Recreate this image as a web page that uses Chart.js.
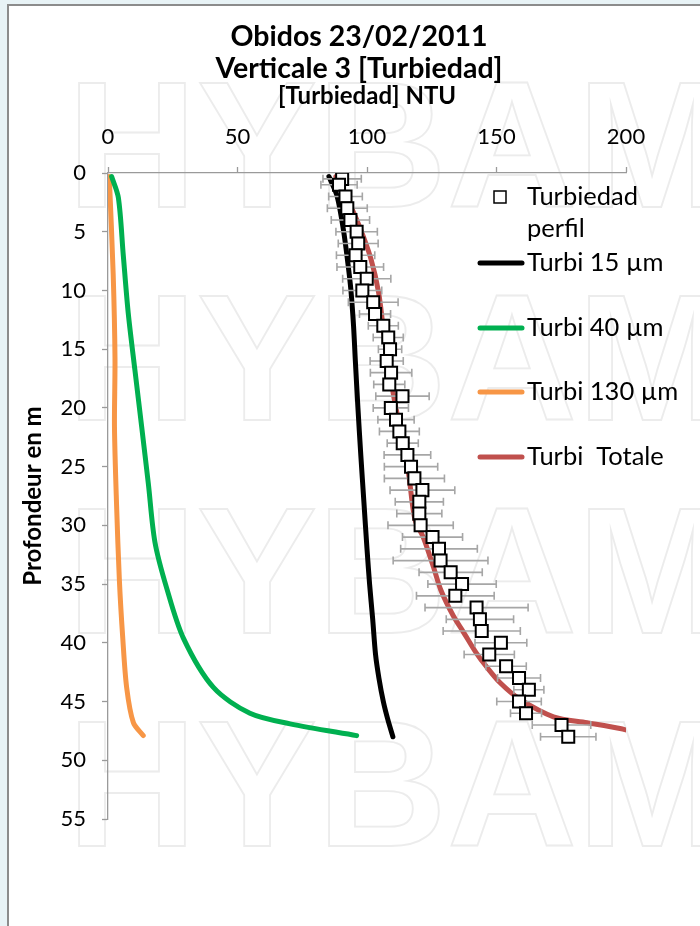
<!DOCTYPE html>
<html>
<head>
<meta charset="utf-8">
<script src="https://cdn.jsdelivr.net/npm/chart.js@4.4.1/dist/chart.umd.min.js"></script>
<style>
    html, body { margin: 0; padding: 0; width: 700px; height: 926px; overflow: hidden; background: #e8f3f6; }
    #frame { position: absolute; left: 7px; top: 4px; width: 720px; height: 940px; background: #fff;
             border-top: 2px solid #8c8c8c; border-left: 2px solid #8c8c8c; }
    #wrap { position: absolute; left: 9px; top: 6px; width: 700px; height: 920px; }
</style>
</head>
<body>
<div id="frame"></div>
<div id="wrap"><canvas id="chart"></canvas></div>
<script>
// Measured profile (turbidity NTU vs depth m) with error bars
const profDepth = [0.5, 1, 2, 3, 4, 5, 6, 7, 8, 9, 10, 11, 12, 13, 14, 15, 16, 17, 18, 19, 20, 21, 22, 23, 24,
                   25, 26, 27, 28, 29, 30, 31, 32, 33, 34, 35, 36, 37, 38, 39, 40, 41, 42, 43, 44, 45, 46, 47, 48];
const profTurb = [90.4, 89.2, 91.7, 92.4, 93.6, 96, 96.6, 95.6, 97.4, 99.9, 98.2, 102.4, 103.1, 106.3, 108.2, 108.9,
                  107.6, 109.3, 108.6, 113.7, 109.2, 111.2, 112.5, 113.8, 115.6, 117, 118.3, 121.4, 120.2, 120.2,
                  120.7, 125.3, 127.8, 128.4, 132.3, 136.7, 134.1, 142.3, 143.6, 144.3, 151.7, 147.2, 153.7, 158.7,
                  162.5, 158.7, 161.4, 175.1, 177.7];
const profErr = [7.4, 7, 6.5, 7.7, 7.4, 8, 7.7, 7.4, 9, 9.3, 7.5, 9.6, 6, 5.8, 5.8, 4.5, 6.4, 8, 6, 10.3, 6.8, 7,
                 7.7, 6, 9, 10.3, 11.6, 12.5, 9.3, 8.7, 12.6, 11.6, 14.8, 18.3, 12.2, 13.2, 15, 19.9, 13, 14.9,
                 10, 9.7, 7.8, 8.3, 5.8, 8.6, 6, 11.3, 10.7];

// Modelled curves per grain size
const depth15 = [0.3, 2, 5, 8, 10, 13, 16, 20, 24, 28, 32, 35, 38, 41, 43, 45, 46.5, 48];
const turb15 = [85.3, 88.5, 91, 92.8, 93.8, 94.8, 95.5, 96.5, 97.6, 98.8, 100, 101, 102.2, 103.3, 104.6, 106.3, 108, 110];

const depth40 = [0.3, 2.1, 7, 11.9, 16.8, 21.6, 26.5, 31.4, 35.3, 39.6, 43.8, 46, 46.9, 47.9];
const turb40 = [1.4, 4, 5.9, 7.8, 10.4, 13, 15.6, 18.1, 22.6, 29.1, 40.7, 54.8, 70.3, 96];

const depth130 = [0.3, 8.6, 15.8, 21.6, 28.2, 34.7, 39.6, 43.8, 46.8, 47.9];
const turb130 = [0.5, 2, 2.7, 2.5, 3.3, 4.4, 5.7, 7.2, 9.8, 13.6];

const depthTot = [0.3, 2, 4.5, 7.3, 10.2, 13.6, 16, 19, 22, 25.5, 29.5, 31, 33.5, 35.5, 37.7, 39, 40.9, 42, 43.4,
                  44.8, 46.3, 46.8, 47.3, 47.6];
const turbTot = [88, 92, 97, 101.5, 104.5, 106.5, 108.2, 110.3, 113, 116, 118.5, 121.7, 125.6, 128.5, 133.3,
                 137, 142.3, 146, 151.4, 159, 172, 185, 197.7, 203];

const titleLines = ['Obidos 23/02/2011', 'Verticale 3 [Turbiedad]'];
const seriesLabels = ['Turbiedad perfil', 'Turbi 15 µm', 'Turbi 40 µm', 'Turbi 130 µm', 'Turbi  Totale'];
const seriesColors = ['#000000', '#000000', '#00b050', '#f79646', '#c0504d'];
const xTicks = [0, 50, 100, 150, 200];
const yTicks = [0, 5, 10, 15, 20, 25, 30, 35, 40, 45, 50, 55];

const toPoints = (xs, ys) => xs.map((v, i) => ({ x: v, y: ys[i] }));

function lineSet(i, xs, ys) {
    return {
        label: seriesLabels[i],
        data: toPoints(xs, ys),
        showLine: true,
        borderColor: seriesColors[i],
        borderWidth: 5,
        borderCapStyle: 'round',
        pointRadius: 0,
        tension: 0.3,
        fill: false
    };
}

// background watermark
const watermark = {
    id: 'watermark',
    beforeDraw(chart) {
        const ctx = chart.ctx;
        ctx.save();
        ctx.font = 'bold 180px "Liberation Sans"';
        ctx.strokeStyle = '#ececec';
        ctx.lineWidth = 1.8;
        [201, 414, 627, 840].forEach(b => ctx.strokeText('HYBAM', 58, b));
        ctx.restore();
    }
};

// chart title, centred on the whole canvas
const topTitle = {
    id: 'topTitle',
    afterDraw(chart) {
        const ctx = chart.ctx;
        ctx.save();
        ctx.font = 'bold 28.5px Lato';
        ctx.fillStyle = '#000';
        ctx.textAlign = 'center';
        ctx.textBaseline = 'middle';
        titleLines.forEach((t, k) => ctx.fillText(t, chart.width / 2, 31 + k * 32));
        ctx.restore();
    }
};

// horizontal error bars under the squares
const errorBars = {
    id: 'errorBars',
    beforeDatasetDraw(chart, args) {
        if (args.index !== 0) return;
        const { ctx, scales: { x, y } } = chart;
        ctx.save();
        ctx.strokeStyle = '#a6a6a6';
        ctx.lineWidth = 1.6;
        profDepth.forEach((d, i) => {
            const py = y.getPixelForValue(d);
            const x0 = x.getPixelForValue(profTurb[i] - profErr[i]);
            const x1 = x.getPixelForValue(profTurb[i] + profErr[i]);
            ctx.beginPath();
            ctx.moveTo(x0, py); ctx.lineTo(x1, py);
            ctx.moveTo(x0, py - 4); ctx.lineTo(x0, py + 4);
            ctx.moveTo(x1, py - 4); ctx.lineTo(x1, py + 4);
            ctx.stroke();
        });
        ctx.restore();
    }
};

// legend drawn inside the plot, at the right
const sideLegend = {
    id: 'sideLegend',
    afterDraw(chart, args, opts) {
        const ctx = chart.ctx;
        ctx.save();
        ctx.font = '25.5px Lato';
        ctx.textBaseline = 'middle';
        chart.data.datasets.forEach((ds, i) => {
            const y = opts.rows[i];
            if (i === 0) {
                ctx.fillStyle = '#fff';
                ctx.strokeStyle = '#000';
                ctx.lineWidth = 1.5;
                ctx.fillRect(485, y - 6, 12, 12);
                ctx.strokeRect(485, y - 6, 12, 12);
            } else {
                ctx.strokeStyle = ds.borderColor;
                ctx.lineWidth = 5;
                ctx.lineCap = 'round';
                ctx.beginPath();
                ctx.moveTo(471, y);
                ctx.lineTo(513, y);
                ctx.stroke();
            }
            ctx.fillStyle = '#000';
            const lines = ctx.measureText(ds.label).width > 165 ? ds.label.split(' ') : [ds.label];
            lines.forEach((t, k) => ctx.fillText(t, 518, y + k * 32));
        });
        ctx.restore();
    }
};

const axisGrid = { drawOnChartArea: false, color: '#9a9a9a', tickLength: 6, tickWidth: 1.3 };

new Chart(document.getElementById('chart'), {
    type: 'scatter',
    data: {
        datasets: [
            {
                label: seriesLabels[0],
                data: toPoints(profTurb, profDepth),
                pointStyle: 'rect',
                pointRadius: 8.5,
                pointBackgroundColor: '#ffffff',
                pointBorderColor: '#000000',
                pointBorderWidth: 2,
                showLine: false
            },
            lineSet(1, turb15, depth15),
            lineSet(2, turb40, depth40),
            lineSet(3, turb130, depth130),
            lineSet(4, turbTot, depthTot)
        ]
    },
    options: {
        responsive: true,
        maintainAspectRatio: false,
        animation: false,
        layout: { padding: { left: 0, right: 83, top: 76, bottom: 107 } },
        plugins: {
            legend: { display: false },
            tooltip: { enabled: false },
            title: { display: false },
            sideLegend: { rows: [191, 257, 322, 386, 451] }
        },
        scales: {
            x: {
                type: 'linear',
                position: 'top',
                min: 0,
                max: 200,
                afterBuildTicks: s => { s.ticks = xTicks.map(v => ({ value: v })); },
                afterFit: s => { s.height = 91; },
                ticks: { color: '#000', font: { family: 'Lato', size: 22 }, padding: 17 },
                grid: axisGrid,
                border: { color: '#9a9a9a', width: 1.3 },
                title: {
                    display: true,
                    text: '[Turbiedad] NTU',
                    color: '#000',
                    font: { family: 'Lato', size: 24, weight: 'bold' },
                    padding: { top: 0, bottom: 0 }
                }
            },
            y: {
                type: 'linear',
                reverse: true,
                min: 0,
                max: 55,
                afterBuildTicks: s => { s.ticks = yTicks.map(v => ({ value: v })); },
                afterFit: s => { s.width = 99; },
                ticks: { color: '#000', font: { family: 'Lato', size: 22 }, padding: 16 },
                grid: axisGrid,
                border: { color: '#9a9a9a', width: 1.3 },
                title: {
                    display: true,
                    text: 'Profondeur en m',
                    color: '#000',
                    font: { family: 'Lato', size: 24, weight: 'bold' },
                    padding: { top: 10, bottom: 0 }
                }
            }
        }
    },
    plugins: [watermark, errorBars, sideLegend, topTitle]
});
</script>
</body>
</html>
